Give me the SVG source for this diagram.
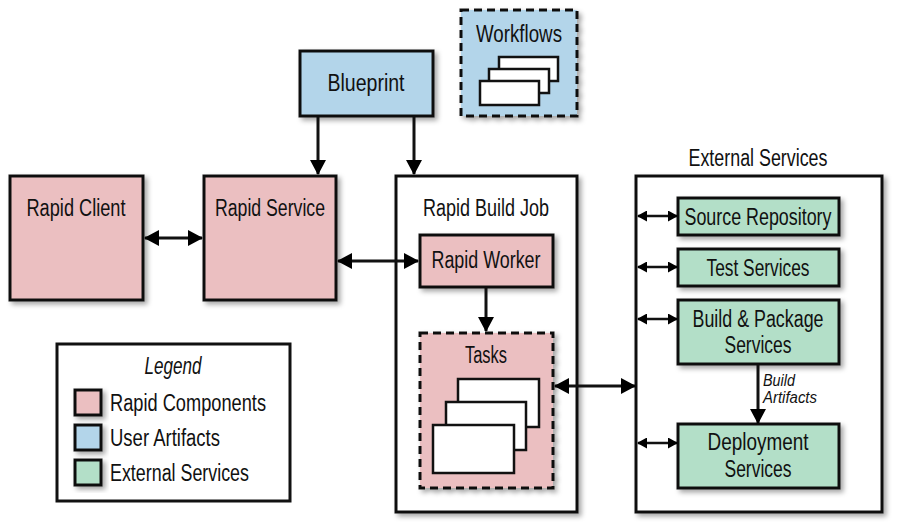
<svg xmlns="http://www.w3.org/2000/svg" width="900" height="532" viewBox="0 0 900 532">
<defs>
<filter id="sh" x="-20%" y="-20%" width="150%" height="150%">
<feDropShadow dx="3" dy="3" stdDeviation="2.5" flood-color="#000" flood-opacity="0.35"/>
</filter>
<marker id="ah" viewBox="0 0 15 16" refX="14" refY="8" markerWidth="15" markerHeight="16" markerUnits="userSpaceOnUse" orient="auto-start-reverse">
<path d="M0,0 L15,8 L0,16 Z" fill="#000"/>
</marker>
<marker id="as" viewBox="0 0 10 11" refX="9" refY="5.5" markerWidth="10" markerHeight="11" markerUnits="userSpaceOnUse" orient="auto-start-reverse">
<path d="M0,0 L10,5.5 L0,11 Z" fill="#000"/>
</marker>
</defs>
<style>
text{font-family:"Liberation Sans",Arial,sans-serif;fill:#111;text-anchor:middle}
.t{font-size:23px}
.s{font-size:23px}
.i{font-style:italic}
.box{stroke:#111;stroke-width:3;filter:url(#sh)}
.pink{fill:#EBBFC1}
.blue{fill:#B3D5EA}
.green{fill:#B3DFC8}
.white{fill:#fff}
.dash{stroke-dasharray:8 5}
.card{fill:#fff;stroke:#111;stroke-width:2.5}
.ln{stroke:#111;stroke-width:3;fill:none}
.lnS{stroke:#111;stroke-width:2.5;fill:none}
</style>
<rect width="900" height="532" fill="#fff"/>

<g id="blueprint">
<rect class="box blue" x="300" y="51" width="133" height="65"/>
<text class="t" x="366" y="91" textLength="77" lengthAdjust="spacingAndGlyphs">Blueprint</text>
</g>

<g id="workflows">
<rect class="box blue dash" x="461" y="10" width="116" height="106"/>
<text class="t" x="519" y="42" textLength="86" lengthAdjust="spacingAndGlyphs">Workflows</text>
<rect class="card" x="499" y="57" width="59" height="24"/>
<rect class="card" x="489" y="69" width="60" height="24"/>
<rect class="card" x="480" y="81" width="59" height="24"/>
</g>

<g id="rapid-client">
<rect class="box pink" x="10" y="176" width="133" height="124"/>
<text class="t" x="76" y="216" textLength="99" lengthAdjust="spacingAndGlyphs">Rapid Client</text>
</g>

<g id="rapid-service">
<rect class="box pink" x="204" y="176" width="132" height="124"/>
<text class="t" x="270" y="216" textLength="110" lengthAdjust="spacingAndGlyphs">Rapid Service</text>
</g>

<g id="rapid-build-job">
<rect class="box white" x="396" y="176" width="181" height="336"/>
<text class="t" x="486" y="216" textLength="126" lengthAdjust="spacingAndGlyphs">Rapid Build Job</text>
</g>

<g id="rapid-worker">
<rect class="box pink" x="420" y="235" width="133" height="52"/>
<text class="t" x="486" y="268" textLength="109" lengthAdjust="spacingAndGlyphs">Rapid Worker</text>
</g>

<g id="tasks">
<rect class="box pink dash" x="420" y="333" width="133" height="155"/>
<text class="t" x="486" y="363" textLength="42" lengthAdjust="spacingAndGlyphs">Tasks</text>
<rect class="card" x="458" y="379" width="81" height="48"/>
<rect class="card" x="446" y="402" width="80" height="48"/>
<rect class="card" x="433" y="425" width="81" height="48"/>
</g>

<g id="external-services">
<text class="t" x="758" y="166" textLength="139" lengthAdjust="spacingAndGlyphs">External Services</text>
<rect class="box white" x="636" y="176" width="246" height="336"/>
</g>

<g id="source-repository">
<rect class="box green" x="678" y="198" width="161" height="37"/>
<text class="t" x="758" y="225" textLength="147" lengthAdjust="spacingAndGlyphs">Source Repository</text>
</g>

<g id="test-services">
<rect class="box green" x="678" y="249" width="161" height="37"/>
<text class="t" x="758" y="276" textLength="103" lengthAdjust="spacingAndGlyphs">Test Services</text>
</g>

<g id="build-package-services">
<rect class="box green" x="678" y="300" width="161" height="64"/>
<text class="t" x="758" y="327" textLength="131" lengthAdjust="spacingAndGlyphs">Build &amp; Package</text>
<text class="t" x="758" y="353" textLength="67" lengthAdjust="spacingAndGlyphs">Services</text>
</g>

<g id="deployment-services">
<rect class="box green" x="678" y="424" width="161" height="64"/>
<text class="t" x="758" y="450" textLength="101" lengthAdjust="spacingAndGlyphs">Deployment</text>
<text class="t" x="758" y="477" textLength="67" lengthAdjust="spacingAndGlyphs">Services</text>
</g>

<g id="legend">
<rect x="57" y="344" width="233" height="157" fill="#fff" stroke="#111" stroke-width="3"/>
<text class="s i" x="173" y="374" textLength="57" lengthAdjust="spacingAndGlyphs">Legend</text>
<rect class="box pink" x="75" y="390" width="26" height="25"/>
<rect class="box blue" x="75" y="425" width="26" height="25"/>
<rect class="box green" x="75" y="460" width="26" height="25"/>
<text class="s" x="110" y="411" style="text-anchor:start" textLength="156" lengthAdjust="spacingAndGlyphs">Rapid Components</text>
<text class="s" x="110" y="446" style="text-anchor:start" textLength="110" lengthAdjust="spacingAndGlyphs">User Artifacts</text>
<text class="s" x="110" y="481" style="text-anchor:start" textLength="139" lengthAdjust="spacingAndGlyphs">External Services</text>
</g>

<g id="connectors">
<line class="ln" x1="318" y1="117" x2="318" y2="174" marker-end="url(#ah)"/>
<line class="ln" x1="414" y1="117" x2="414" y2="174" marker-end="url(#ah)"/>
<line class="ln" x1="145" y1="238" x2="202" y2="238" marker-start="url(#ah)" marker-end="url(#ah)"/>
<line class="ln" x1="338" y1="261" x2="418" y2="261" marker-start="url(#ah)" marker-end="url(#ah)"/>
<line class="ln" x1="486" y1="288" x2="486" y2="331" marker-end="url(#ah)"/>
<line class="ln" x1="555" y1="386" x2="635" y2="386" marker-start="url(#ah)" marker-end="url(#ah)"/>
<line class="lnS" x1="638" y1="216" x2="677" y2="216" marker-start="url(#as)" marker-end="url(#as)"/>
<line class="lnS" x1="638" y1="267" x2="677" y2="267" marker-start="url(#as)" marker-end="url(#as)"/>
<line class="lnS" x1="638" y1="319" x2="677" y2="319" marker-start="url(#as)" marker-end="url(#as)"/>
<line class="lnS" x1="638" y1="443" x2="677" y2="443" marker-start="url(#as)" marker-end="url(#as)"/>
<line class="ln" x1="758" y1="365" x2="758" y2="423" marker-end="url(#ah)"/>
<text class="i" x="763" y="386" style="font-size:16px;text-anchor:start" textLength="32" lengthAdjust="spacingAndGlyphs">Build</text>
<text class="i" x="763" y="403" style="font-size:16px;text-anchor:start" textLength="54" lengthAdjust="spacingAndGlyphs">Artifacts</text>
</g>
</svg>
